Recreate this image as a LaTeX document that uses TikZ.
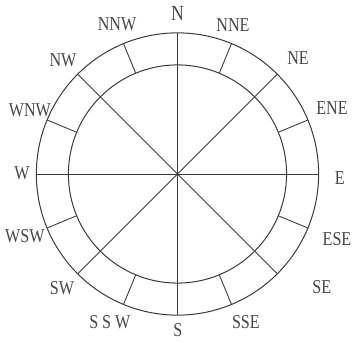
\documentclass[tikz,border=0pt]{standalone}
\usepackage{fontspec}
\newfontfamily\rosefont[FakeStretch=0.82]{Liberation Serif}
\usetikzlibrary{positioning}
\definecolor{roseline}{RGB}{60, 60, 60}
\definecolor{rosetext}{RGB}{70, 70, 70}
\tikzset{
  ring/.style={draw=roseline, line width=0.8pt},
  spoke/.style={draw=roseline, line width=0.7pt},
  dirlabel/.style={font=\rosefont\fontsize{15.5}{17}\selectfont, text=rosetext, inner sep=0pt}
}

\begin{document}
\begin{tikzpicture}[x=1cm, y=1cm]
\useasboundingbox (-4.93, -4.667) rectangle (5.069, 4.833);

\def\ro{3.92}
\def\ri{3.03}
\coordinate (O) at (0, 0);

% Kreise
\draw[ring] (O) circle (\ro);
\draw[ring] (O) circle (\ri);

% Durchmesser
\draw[spoke] (90:\ro) -- (270:\ro);
\draw[spoke] (0:\ro) -- (180:\ro);
\draw[spoke] (45:\ro) -- (225:\ro);
\draw[spoke] (135:\ro) -- (315:\ro);

% Teilstriche
\foreach \a in {22.5, 67.5, 112.5, 157.5, 202.5, 247.5, 292.5, 337.5}
  \draw[spoke] (\a:\ri) -- (\a:\ro);

% Beschriftung
\node[dirlabel, font=\rosefont\fontsize{17}{19}\selectfont] (n) at (0, 4.45) {N};
\node[dirlabel] (nne) at (1.54, 4.14) {NNE};
\node[dirlabel] (ne) at (3.35, 3.22) {NE};
\node[dirlabel] (ene) at (4.29, 1.83) {ENE};
\node[dirlabel] (e) at (4.51, -0.11) {E};
\node[dirlabel] (ese) at (4.43, -1.81) {ESE};
\node[dirlabel] (se) at (4.01, -3.14) {SE};
\node[dirlabel] (sse) at (1.90, -4.11) {SSE};
\node[dirlabel] (s) at (0.01, -4.33) {S};
\node[dirlabel] (ssw) at (-1.88, -4.11) {S S W};
\node[dirlabel] (sw) at (-3.21, -3.17) {SW};
\node[dirlabel] (wsw) at (-4.24, -1.72) {WSW};
\node[dirlabel] (w) at (-4.32, 0.03) {W};
\node[dirlabel] (wnw) at (-4.10, 1.78) {WNW};
\node[dirlabel] (nw) at (-3.18, 3.17) {NW};
\node[dirlabel] (nnw) at (-1.68, 4.17) {NNW};

\end{tikzpicture}
\end{document}
